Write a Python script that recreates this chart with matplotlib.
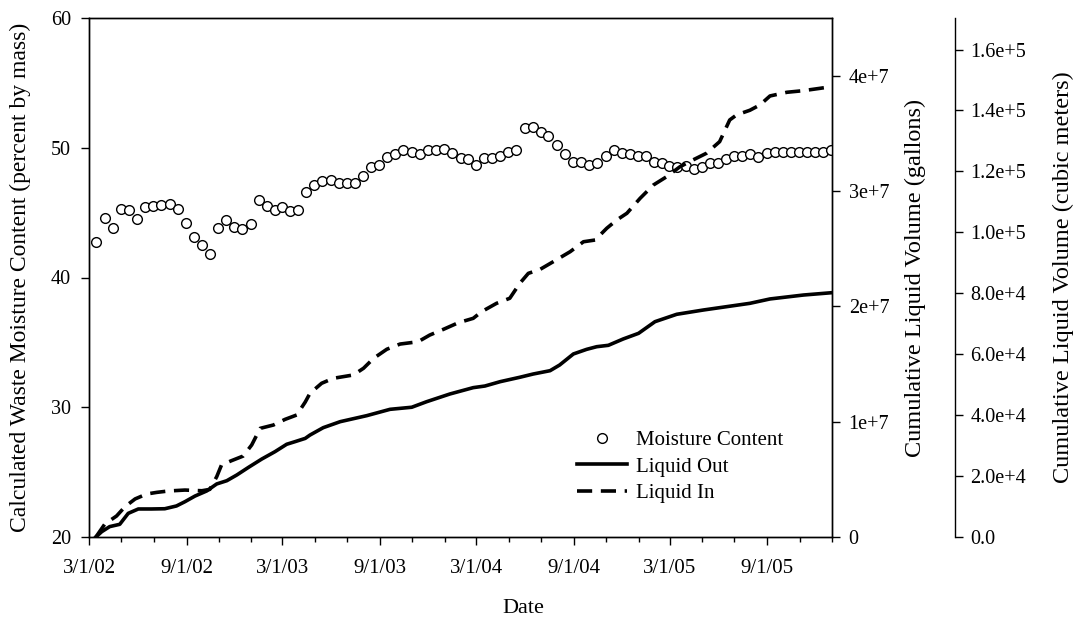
import numpy as np
import pandas as pd
import matplotlib
matplotlib.use("Agg")
import matplotlib.pyplot as plt
import matplotlib.dates as mdates
from matplotlib.ticker import FuncFormatter, FixedLocator
from matplotlib.lines import Line2D

plt.rcParams['font.family'] = ['Liberation Serif', 'DejaVu Serif']

# moisture content, sampled twice a month (15th and month end), Mar 2002 - Dec 2005
try:
    moisture_dates = pd.date_range('2002-03-15', '2005-12-31', freq='SME')
except ValueError:
    moisture_dates = pd.date_range('2002-03-15', '2005-12-31', freq='SM')
moisture = [42.7, 44.6, 43.8, 45.3, 45.2, 44.5, 45.4, 45.5, 45.6, 45.7,
            45.3, 44.2, 43.1, 42.5, 41.8, 43.8, 44.4, 43.9, 43.7, 44.1,
            46.0, 45.5, 45.2, 45.4, 45.1, 45.2, 46.6, 47.1, 47.4, 47.5,
            47.3, 47.3, 47.3, 47.8, 48.5, 48.7, 49.3, 49.5, 49.8, 49.7,
            49.5, 49.8, 49.8, 49.9, 49.6, 49.2, 49.1, 48.7, 49.2, 49.2,
            49.4, 49.7, 49.8, 51.5, 51.6, 51.2, 50.9, 50.2, 49.5, 48.9,
            48.9, 48.7, 48.8, 49.4, 49.8, 49.6, 49.5, 49.4, 49.4, 48.9,
            48.8, 48.6, 48.5, 48.6, 48.4, 48.5, 48.8, 48.8, 49.1, 49.4,
            49.4, 49.5, 49.3, 49.6, 49.7, 49.7, 49.7, 49.7, 49.7, 49.7,
            49.7, 49.8]

# cumulative liquid out (gallons)
out_dates = ['2002-03-14', '2002-03-25', '2002-04-09', '2002-04-28', '2002-05-14',
             '2002-06-02', '2002-06-27', '2002-07-22', '2002-08-13', '2002-08-29',
             '2002-09-17', '2002-10-09', '2002-10-28', '2002-11-16', '2002-12-05',
             '2002-12-27', '2003-01-21', '2003-02-15', '2003-03-09', '2003-03-25',
             '2003-04-13', '2003-04-22', '2003-05-17', '2003-06-18', '2003-08-07',
             '2003-09-20', '2003-10-31', '2003-11-28', '2004-01-11', '2004-02-24',
             '2004-03-17', '2004-04-15', '2004-05-22', '2004-06-16', '2004-07-18',
             '2004-08-05', '2004-08-31', '2004-09-25', '2004-10-14', '2004-11-05',
             '2004-12-03', '2005-01-01', '2005-02-01', '2005-03-14', '2005-05-03',
             '2005-06-16', '2005-07-30', '2005-09-06', '2005-11-08', '2005-12-31']
liquid_out = [0.0, 0.46e6, 0.9e6, 1.1e6, 2.05e6,
              2.43e6, 2.43e6, 2.45e6, 2.69e6, 3.06e6,
              3.55e6, 3.99e6, 4.6e6, 4.88e6, 5.38e6,
              6.04e6, 6.76e6, 7.4e6, 8.04e6, 8.27e6,
              8.55e6, 8.84e6, 9.48e6, 10.0e6, 10.52e6,
              11.07e6, 11.25e6, 11.73e6, 12.4e6, 12.95e6,
              13.09e6, 13.47e6, 13.85e6, 14.13e6, 14.42e6,
              14.91e6, 15.87e6, 16.27e6, 16.5e6, 16.62e6,
              17.17e6, 17.66e6, 18.67e6, 19.31e6, 19.68e6,
              19.97e6, 20.26e6, 20.64e6, 20.98e6, 21.18e6]

# cumulative liquid in (gallons)
in_dates = ['2002-03-14', '2002-03-31', '2002-04-22', '2002-05-08', '2002-05-27',
            '2002-06-18', '2002-07-07', '2002-07-29', '2002-08-29', '2002-09-30',
            '2002-10-15', '2002-10-28', '2002-11-06', '2002-11-25', '2002-12-17',
            '2003-01-02', '2003-01-18', '2003-02-12', '2003-03-06', '2003-03-28',
            '2003-04-13', '2003-04-22', '2003-05-14', '2003-06-05', '2003-07-13',
            '2003-08-01', '2003-08-20', '2003-09-14', '2003-10-09', '2003-11-12',
            '2003-12-04', '2003-12-30', '2004-01-27', '2004-02-24', '2004-03-11',
            '2004-04-08', '2004-05-03', '2004-05-22', '2004-06-07', '2004-06-29',
            '2004-07-24', '2004-08-25', '2004-09-19', '2004-10-11', '2004-11-02',
            '2004-11-21', '2004-12-10', '2005-01-04', '2005-01-29', '2005-02-23',
            '2005-03-20', '2005-04-14', '2005-05-09', '2005-06-03', '2005-06-22',
            '2005-07-05', '2005-07-30', '2005-08-18', '2005-09-06', '2005-10-08',
            '2005-11-08', '2005-12-09', '2005-12-31']
liquid_in = [0.0, 1.13e6, 1.82e6, 2.63e6, 3.3e6,
             3.73e6, 3.87e6, 3.99e6, 4.07e6, 4.01e6,
             4.13e6, 5.23e6, 6.24e6, 6.62e6, 7.02e6,
             7.98e6, 9.42e6, 9.71e6, 10.2e6, 10.58e6,
             11.7e6, 12.46e6, 13.33e6, 13.76e6, 14.05e6,
             14.63e6, 15.49e6, 16.28e6, 16.73e6, 16.93e6,
             17.51e6, 18.01e6, 18.58e6, 18.96e6, 19.54e6,
             20.26e6, 20.7e6, 22.0e6, 22.86e6, 23.2e6,
             23.87e6, 24.74e6, 25.6e6, 25.75e6, 26.77e6,
             27.49e6, 28.07e6, 29.37e6, 30.52e6, 31.24e6,
             32.1e6, 32.7e6, 33.27e6, 34.28e6, 36.16e6,
             36.6e6, 37.0e6, 37.46e6, 38.24e6, 38.56e6,
             38.7e6, 38.9e6, 39.05e6]

GAL_TO_M3 = 0.0037854
gal_max = 4.5e7

fig = plt.figure(figsize=(10.79, 6.23), dpi=100)
ax1 = fig.add_axes([89 / 1079, 86 / 623, 743 / 1079, 519 / 623])
ax2 = ax1.twinx()
ax3 = ax1.twinx()

ax1.plot(moisture_dates, moisture, 'o', ms=7.0, mfc='white', mec='black', mew=1.0,
         label='Moisture Content', zorder=3)
ax2.plot(pd.to_datetime(out_dates), liquid_out, '-', color='black', lw=2.6,
         label='Liquid Out')
ax2.plot(pd.to_datetime(in_dates), liquid_in, '--', color='black', lw=2.6,
         dashes=(4.2, 2.4), label='Liquid In')

ax1.set_xlim(pd.Timestamp('2002-03-01'), pd.Timestamp('2006-01-01'))
ax1.set_ylim(20, 60)
ax1.set_yticks([20, 30, 40, 50, 60])
ax2.set_ylim(0, gal_max)
ax3.set_ylim(0, gal_max * GAL_TO_M3)

ax1.xaxis.set_major_locator(mdates.MonthLocator(bymonth=[3, 9]))
ax1.xaxis.set_minor_locator(mdates.MonthLocator(bymonth=[1, 5, 7, 11]))
ax1.xaxis.set_major_formatter(FuncFormatter(
    lambda v, p: '%d/%d/%02d' % (mdates.num2date(v).month, mdates.num2date(v).day,
                                 mdates.num2date(v).year % 100)))


def sci_fmt(v, p, dec=0):
    if v == 0:
        return '0' if dec == 0 else '0.0'
    e = int(np.floor(np.log10(abs(v)) + 1e-9))
    m = v / 10 ** e
    return ('%.' + str(dec) + 'fe+%d') % (m, e)


ax2.yaxis.set_major_locator(FixedLocator([0, 1e7, 2e7, 3e7, 4e7]))
ax2.yaxis.set_major_formatter(FuncFormatter(lambda v, p: sci_fmt(v, p, 0)))
ax3.yaxis.set_major_locator(FixedLocator(np.arange(0, 1.7e5, 2e4)))
ax3.yaxis.set_major_formatter(FuncFormatter(lambda v, p: sci_fmt(v, p, 1)))

ax3.spines['right'].set_position(('axes', (955 - 89) / 743))
for s in ['top', 'left', 'bottom']:
    ax3.spines[s].set_visible(False)

for ax in (ax1, ax2, ax3):
    ax.tick_params(axis='both', which='major', direction='out', length=5.5, width=1,
                   labelsize=14.5)
    ax.tick_params(axis='both', which='minor', direction='out', length=3.5, width=1)
    for s in ax.spines.values():
        s.set_linewidth(1)
ax1.tick_params(axis='x', which='major', pad=10.5, labelsize=15)
ax1.tick_params(axis='y', which='major', pad=7.5)
ax2.tick_params(axis='y', which='major', pad=6.5)
ax3.tick_params(axis='y', which='major', pad=5.5)

ax1.set_xlabel('Date', fontsize=16)
ax1.xaxis.set_label_coords(0.585, -0.12)
ax1.set_ylabel('Calculated Waste Moisture Content (percent by mass)', fontsize=17)
ax1.yaxis.set_label_coords(-0.078, 0.5)
ax2.set_ylabel('Cumulative Liquid Volume (gallons)', fontsize=17.5)
ax2.yaxis.set_label_coords(1.098, 0.5)
ax3.set_ylabel('Cumulative Liquid Volume (cubic meters)', fontsize=17.5)
ax3.yaxis.set_label_coords(1.2975, 0.5)

handles = [Line2D([], [], ls='none', marker='o', ms=7.0, mfc='white', mec='black', mew=1.0),
           Line2D([], [], color='black', lw=2.6),
           Line2D([], [], color='black', lw=2.6, ls='--', dashes=(4.2, 2.4))]
ax3.legend(handles, ['Moisture Content', 'Liquid Out', 'Liquid In'],
           loc='center left', bbox_to_anchor=(577 / 1079, 1 - 467 / 623),
           bbox_transform=fig.transFigure, frameon=False, fontsize=15,
           handlelength=2.4, handletextpad=0.45, labelspacing=0.33,
           borderpad=0, borderaxespad=0)

fig.savefig('out.png', dpi=100)
